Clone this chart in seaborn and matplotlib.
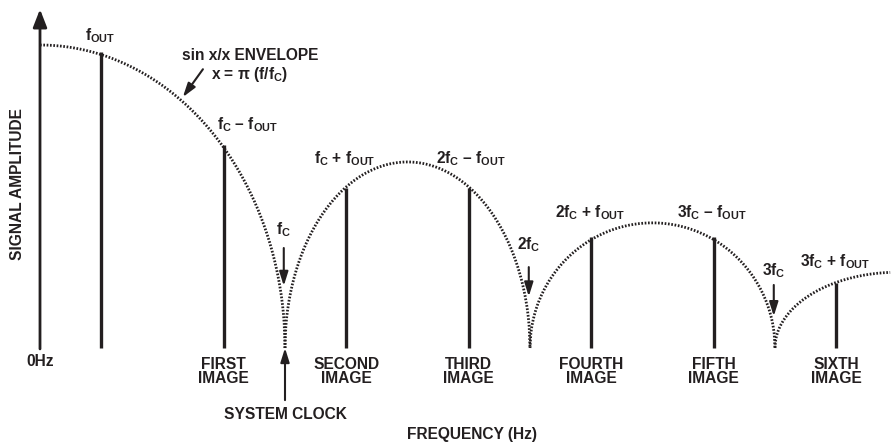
import numpy as np
import pandas as pd
import matplotlib
matplotlib.use("Agg")
import matplotlib.pyplot as plt
import seaborn as sns

# ---------------- data (frequencies in units of fC, amplitudes normalised) ----
lobe_starts = [0.0, 1.0, 2.0, 3.0]          # lobe boundaries (nulls at k*fC)
lobe_peaks = [1.0, 0.614, 0.413, 0.25]      # envelope peak height of each lobe
tone_freqs = [0.25, 0.75, 1.25, 1.75, 2.25, 2.75, 3.25]
tone_amps = [0.977, 0.670, 0.528, 0.528, 0.366, 0.366, 0.215]
tone_labels = [r"f$_\mathrm{OUT}$",
               r"f$_\mathrm{C}$ – f$_\mathrm{OUT}$",
               r"f$_\mathrm{C}$ + f$_\mathrm{OUT}$",
               r"2f$_\mathrm{C}$ – f$_\mathrm{OUT}$",
               r"2f$_\mathrm{C}$ + f$_\mathrm{OUT}$",
               r"3f$_\mathrm{C}$ – f$_\mathrm{OUT}$",
               r"3f$_\mathrm{C}$ + f$_\mathrm{OUT}$"]
image_labels = ["", "FIRST\nIMAGE", "SECOND\nIMAGE", "THIRD\nIMAGE",
                "FOURTH\nIMAGE", "FIFTH\nIMAGE", "SIXTH\nIMAGE"]
clock_freqs = [1.0, 2.0, 3.0]
clock_labels = [r"f$_\mathrm{C}$", r"2f$_\mathrm{C}$", r"3f$_\mathrm{C}$"]
x_end = 3.47

INK = "#231f20"

sns.set_theme(style="white")
plt.rcParams["font.family"] = ["Liberation Sans", "DejaVu Sans"]
plt.rcParams["font.weight"] = "bold"
plt.rcParams["mathtext.fontset"] = "custom"
plt.rcParams["mathtext.rm"] = "Liberation Sans:bold"
plt.rcParams["mathtext.it"] = "Liberation Sans:bold"
plt.rcParams["mathtext.bf"] = "Liberation Sans:bold"
plt.rcParams["text.color"] = INK

# build envelope table (elliptic arches through each lobe peak)
rows = []
for k, (s, p) in enumerate(zip(lobe_starts, lobe_peaks)):
    if k == 0:
        f = np.linspace(0, 1, 300)
        a = p * np.sqrt(np.clip(1 - f ** 2, 0, None))
    else:
        f = np.linspace(s, min(s + 1, x_end), 300)
        c = s + 0.5
        a = p * np.sqrt(np.clip(1 - ((f - c) / 0.5) ** 2, 0, None))
    rows.append(pd.DataFrame({"freq": f, "amp": a, "lobe": k}))
env = pd.concat(rows, ignore_index=True)

fig = plt.figure(figsize=(8.94, 4.43), dpi=100)
ax = fig.add_axes([0, 0, 1, 1])
ax.set_xlim(-40 / 245, (894 - 40) / 245)
ax.set_ylim(-95 / 303, 348 / 303)
ax.axis("off")

sns.lineplot(data=env, x="freq", y="amp", units="lobe", estimator=None,
             color=INK, lw=2.0, dashes=False, ax=ax, legend=False)
for line in ax.get_lines():
    line.set_linestyle((0, (0.6, 0.6)))

ax.vlines(tone_freqs, 0, tone_amps, color=INK, lw=2.4)

# axes with arrowheads
ax.annotate("", xy=(x_end + 0.03, 0), xytext=(-0.005, 0),
            arrowprops=dict(arrowstyle="-|>,head_length=0.9,head_width=0.35",
                            color=INK, lw=2, shrinkA=0, shrinkB=0))
ax.annotate("", xy=(0, 1.118), xytext=(0, -0.003),
            arrowprops=dict(arrowstyle="-|>,head_length=0.9,head_width=0.35",
                            color=INK, lw=2, shrinkA=0, shrinkB=0))

fs = 11.2
# tone labels
label_x = [0.245, 0.845, 1.245, 1.76, 2.245, 2.74, 3.245]
label_y = [1.030, 0.737, 0.625, 0.625, 0.446, 0.446, 0.284]
for lx, lab, ly in zip(label_x, tone_labels, label_y):
    ax.text(lx, ly, lab, ha="center", va="center", fontsize=fs, fontweight="bold")

# image labels
for f, lab in zip(tone_freqs, image_labels):
    if lab:
        ax.text(f, -0.079, lab, ha="center", va="center", fontsize=fs,
                fontweight="bold", linespacing=0.92)
ax.text(0, -0.046, "0Hz", ha="center", va="center", fontsize=fs, fontweight="bold")

# clock markers
clock_label_y = [0.389, 0.340, 0.254]
clock_arrow_top = [0.330, 0.267, 0.208]
clock_arrow_tip = [0.205, 0.170, 0.105]
for f, lab, ly, at, ab in zip(clock_freqs, clock_labels, clock_label_y,
                              clock_arrow_top, clock_arrow_tip):
    ax.text(f - 0.005, ly, lab, ha="center", va="center", fontsize=fs,
            fontweight="bold")
    ax.annotate("", xy=(f - 0.005, ab), xytext=(f - 0.005, at),
                arrowprops=dict(arrowstyle="-|>,head_length=0.7,head_width=0.22",
                                color=INK, lw=1.5, shrinkA=0, shrinkB=0))

# system clock
ax.annotate("", xy=(1.0, 0.0), xytext=(1.0, -0.172),
            arrowprops=dict(arrowstyle="-|>,head_length=0.7,head_width=0.22",
                            color=INK, lw=1.5, shrinkA=0, shrinkB=0))
ax.text(1.0, -0.221, "SYSTEM CLOCK", ha="center", va="center", fontsize=fs,
        fontweight="bold")

# envelope annotation
ax.text(0.857, 0.964, "sin x/x ENVELOPE", ha="center", va="center", fontsize=fs,
        fontweight="bold")
ax.text(0.857, 0.901, r"x = π (f/f$_\mathrm{C}$)", ha="center", va="center",
        fontsize=fs, fontweight="bold")
ax.annotate("", xy=(0.583, 0.828), xytext=(0.665, 0.920),
            arrowprops=dict(arrowstyle="-|>,head_length=0.7,head_width=0.22",
                            color=INK, lw=1.5, shrinkA=0, shrinkB=0))

# axis titles
ax.text(1.765, -0.284, "FREQUENCY (Hz)", ha="center", va="center", fontsize=fs,
        fontweight="bold")
ax.text(-0.09, 0.541, "SIGNAL AMPLITUDE", ha="center", va="center", fontsize=fs,
        fontweight="bold", rotation=90)

fig.savefig("out.png", dpi=100)
